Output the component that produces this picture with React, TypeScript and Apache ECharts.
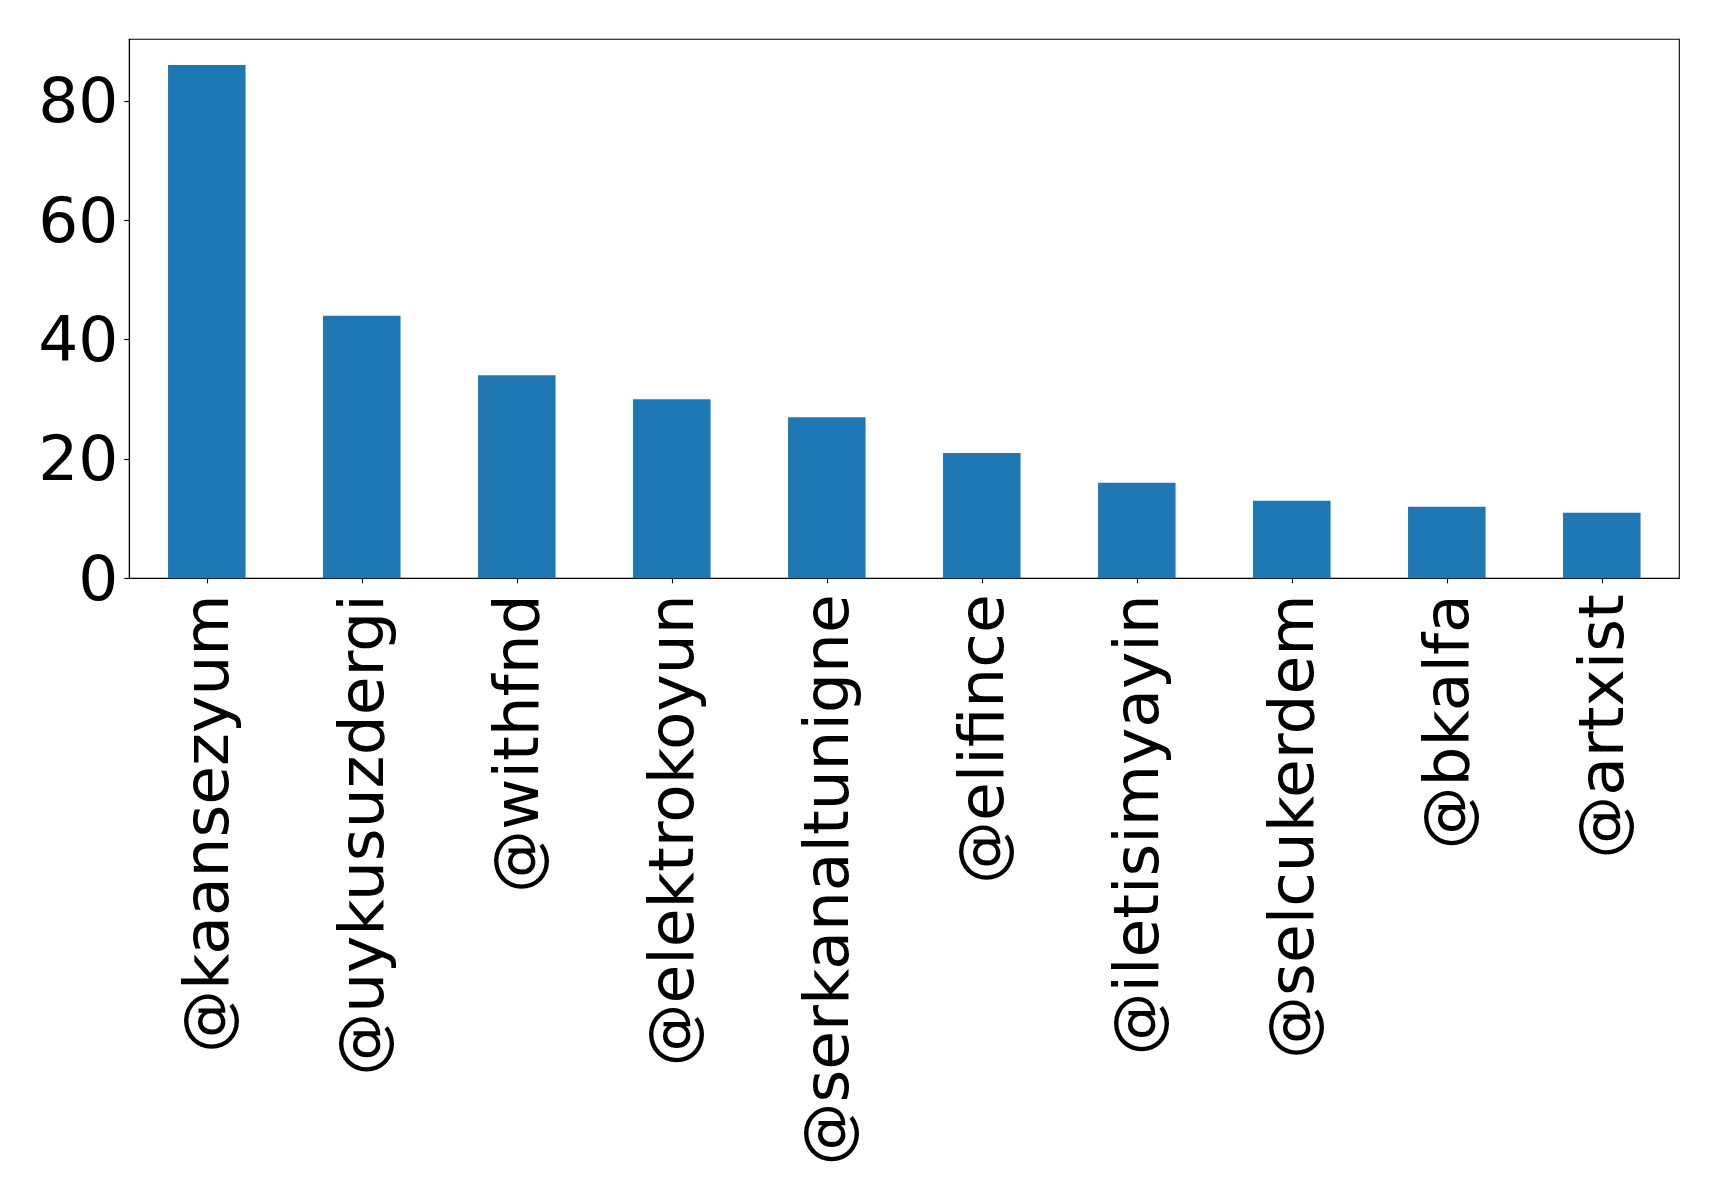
import React, { useEffect, useRef } from "react";
import * as echarts from "echarts";

const categories = [
  "@kaansezyum",
  "@uykusuzdergi",
  "@withfnd",
  "@elektrokoyun",
  "@serkanaltunigne",
  "@elifince",
  "@iletisimyayin",
  "@selcukerdem",
  "@bkalfa",
  "@artxist",
];
const values = [86, 44, 34, 30, 27, 21, 16, 13, 12, 11];
const yTicks = [0, 20, 40, 60, 80];
const yMax = 90.3;

export default function App() {
  const ref = useRef<HTMLDivElement>(null);
  useEffect(() => {
    if (!ref.current) return;
    const chart = echarts.init(ref.current, undefined, { renderer: "svg" });
    const font = "DejaVu Sans";
    chart.setOption({
      animation: false,
      backgroundColor: "#ffffff",
      grid: {
        left: 129.3,
        right: 39.7,
        top: 39.3,
        bottom: 615.7,
        show: true,
        borderColor: "#000000",
        borderWidth: 1.1,
        containLabel: false,
      },
      xAxis: {
        type: "category",
        data: categories,
        boundaryGap: true,
        axisLine: { show: true, lineStyle: { color: "#000000", width: 1.1 } },
        axisTick: { show: true, alignWithLabel: true, length: 5, lineStyle: { color: "#000000", width: 1.1 } },
        axisLabel: {
          rotate: 90,
          interval: 0,
          margin: 16,
          fontFamily: font,
          fontSize: 63,
          color: "#000000",
        },
        splitLine: { show: false },
      },
      yAxis: {
        type: "value",
        min: 0,
        max: yMax,
        axisLine: { show: true, lineStyle: { color: "#000000", width: 1.1 } },
        axisTick: { show: true, length: 5, customValues: yTicks, lineStyle: { color: "#000000", width: 1.1 } },
        axisLabel: {
          customValues: yTicks,
          margin: 11,
          fontFamily: font,
          fontSize: 63,
          color: "#000000",
        },
        splitLine: { show: false },
      },
      series: [
        {
          type: "bar",
          data: values,
          barWidth: "50%",
          itemStyle: { color: "#1f77b4" },
        },
      ],
    });
    return () => chart.dispose();
  }, []);
  return (
    <div
      ref={ref}
      style={{ position: "fixed", left: 0, top: 0, width: 1719, height: 1194, background: "#fff" }}
    />
  );
}
